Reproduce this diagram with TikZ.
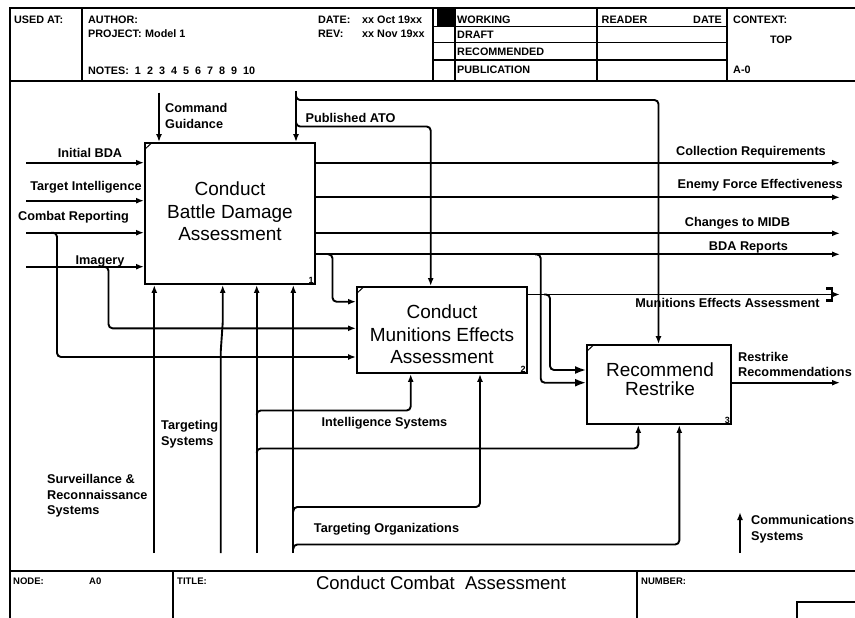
\documentclass[tikz,border=0pt]{standalone}
\usepackage{fontspec}
\setmainfont{Liberation Sans}
\usetikzlibrary{arrows.meta,calc}
\begin{document}
\begin{tikzpicture}[x=1pt,y=-1pt,
  ln/.style={line width=1.9pt},
  arr/.style={ln,-{Latex[length=8pt,width=6pt]}},
  barr/.style={ln,-{Latex[length=11pt,width=8pt]}},
  rc/.style={rounded corners=4pt},
  fr/.style={line width=1.8pt},
  box/.style={draw,line width=1.9pt,inner sep=0pt},
  boxtxt/.style={font=\fontsize{19}{22.5}\selectfont,align=center,inner sep=0pt},
  lbl/.style={font=\fontsize{12.7}{15.5}\selectfont\bfseries,inner sep=0pt},
  hdr/.style={font=\fontsize{10.8}{13}\selectfont\bfseries,inner sep=0pt,anchor=west},
  ftr/.style={font=\fontsize{9.5}{11}\selectfont\bfseries,inner sep=0pt,anchor=west},
  num/.style={font=\fontsize{9}{10}\selectfont\bfseries,inner sep=0pt,anchor=south east},
  tick/.style={line width=1pt}
]
\useasboundingbox (0,0) rectangle (855,618);

% ---------- frame ----------
\draw[line width=2.2pt] (10,618) -- (10,8) -- (855,8);
\draw[fr] (10,81) -- (855,81);
\draw[fr] (10,571) -- (855,571);
\draw[fr] (82,8) -- (82,81);
\draw[fr] (433,8) -- (433,81);
\draw[fr] (455,8) -- (455,81);
\draw[fr] (597,8) -- (597,81);
\draw[fr] (727,8) -- (727,81);
\draw[line width=1.5pt] (433,26.3) -- (727,26.3);
\draw[line width=1.5pt] (433,42.7) -- (727,42.7);
\draw[line width=1.5pt] (433,60) -- (727,60);
\fill (437,9) rectangle (455,26);
\draw[fr] (173,571) -- (173,618);
\draw[fr] (637,571) -- (637,618);
\draw[fr] (797,618) -- (797,602) -- (855,602);

% ---------- header text ----------
\node[hdr] (usedat) at (14,20) {USED AT:};
\node[hdr] (author) at (88,20) {AUTHOR:};
\node[hdr] (project) at (88,34) {PROJECT:};
\node[hdr] (model) at (145,34) {Model 1};
\node[hdr] (notes) at (88,71) {NOTES:\ \ 1\ \ 2\ \ 3\ \ 4\ \ 5\ \ 6\ \ 7\ \ 8\ \ 9\ \ 10};
\node[hdr] (date) at (318,20) {DATE:};
\node[hdr] (datev) at (362,20) {xx Oct 19xx};
\node[hdr] (rev) at (318,34) {REV:};
\node[hdr] (revv) at (362,34) {xx Nov 19xx};
\node[hdr] (working) at (457,20) {WORKING};
\node[hdr] (draft) at (457,34.3) {DRAFT};
\node[hdr] (recom) at (457,52) {RECOMMENDED};
\node[hdr] (publ) at (457,69.5) {PUBLICATION};
\node[hdr] (reader) at (601.5,20) {READER};
\node[hdr,anchor=east] (rdate) at (722,20) {DATE};
\node[hdr] (context) at (733,20) {CONTEXT:};
\node[hdr,anchor=center] (top) at (781,40) {TOP};
\node[hdr] (azero) at (733,70) {A-0};

% ---------- footer text ----------
\node[ftr] (nodel) at (13,581) {NODE:};
\node[ftr] (nodev) at (89,581) {A0};
\node[ftr] (titlel) at (177,581) {TITLE:};
\node[font=\fontsize{18.5}{22}\selectfont,inner sep=0pt] (title) at (441,583) {Conduct Combat\ \ Assessment};
\node[ftr] (numl) at (641,581) {NUMBER:};

% ---------- boxes ----------
\node[box,minimum width=170pt,minimum height=141pt] (b1) at (230,213.5) {};
\node[box,minimum width=170pt,minimum height=86pt] (b2) at (442,330) {};
\node[box,minimum width=144pt,minimum height=79pt] (b3) at (659,384.5) {};
\node[boxtxt] (t1) at (230,211.5) {Conduct\\Battle Damage\\Assessment};
\node[boxtxt] (t2) at (442,334.5) {Conduct\\Munitions Effects\\Assessment};
\node[boxtxt,font=\fontsize{19}{19}\selectfont] (t3) at (660,379.5) {Recommend\\Restrike};
\node[num] (n1) at ([shift={(-2,-1.5)}]b1.south east) {1};
\node[num] (n2) at ([shift={(-2,-1.5)}]b2.south east) {2};
\node[num] (n3) at ([shift={(-2,-1.5)}]b3.south east) {3};
\foreach \b in {b1,b2,b3}
  \draw[tick] ([shift={(1,7)}]\b.north west) -- ([shift={(7.5,1)}]\b.north west);

% ---------- inputs ----------
\coordinate (iBDA) at (26,162.7);
\coordinate (iTI) at (26,200.7);
\coordinate (iCR) at (26,232.7);
\coordinate (iIM) at (26,266.7);
\draw[arr] (iBDA) -- (iBDA -| b1.west);
\draw[arr] (iTI) -- (iTI -| b1.west);
\draw[arr] (iCR) -- (iCR -| b1.west);
\draw[arr] (iIM) -- (iIM -| b1.west);
\coordinate (crB) at (51,232.7);
\coordinate (crE) at (57,357);
\draw[arr,rc] (crB) -| (crE) -- (crE -| b2.west);
\coordinate (imB) at (105,266.7);
\coordinate (imE) at (108.5,328.3);
\draw[arr,rc] (imB) -| (imE) -- (imE -| b2.west);

\node[lbl] (lIBDA) at (90,153) {Initial BDA};
\node[lbl] (lTI) at (86,187) {Target Intelligence};
\node[lbl] (lCR) at (73.5,217) {Combat Reporting};
\node[lbl] (lIM) at (100,261) {Imagery};

% ---------- outputs ----------
\coordinate (oCR) at (840,162.7);
\coordinate (oEF) at (840,197.3);
\coordinate (oMI) at (840,233.3);
\coordinate (oBD) at (840,254.3);
\coordinate (oMA) at (840,294.5);
\coordinate (oRR) at (840,382.7);
\draw[arr] (oCR -| b1.east) -- (oCR);
\draw[arr] (oEF -| b1.east) -- (oEF);
\draw[arr] (oMI -| b1.east) -- (oMI);
\draw[arr] (oBD -| b1.east) -- (oBD);
\draw[arr] (oMA -| b2.east) -- (oMA);
\draw[line width=2.8pt] (826,288.5) -- (832,288.5) -- (832,300.5) -- (826,300.5);
\draw[arr] (oRR -| b3.east) -- (oRR);

\coordinate (bdB2) at (329,254.3);
\coordinate (bdE2) at (332.5,301.7);
\draw[arr,rc] (bdB2) -| (bdE2) -- (bdE2 -| b2.west);
\coordinate (bdB3) at (535,254.3);
\coordinate (bdE3) at (540.7,382.7);
\draw[barr,rc] (bdB3) -| (bdE3) -- (bdE3 -| b3.west);
\coordinate (maB3) at (544,294.5);
\coordinate (maE3) at (550,370);
\draw[barr,rc] (maB3) -| (maE3) -- (maE3 -| b3.west);

\node[lbl,anchor=east] (lCRq) at (826,152) {Collection Requirements};
\node[lbl,anchor=east] (lEF) at (843,185.5) {Enemy Force Effectiveness};
\node[lbl] (lMI) at (737.5,223) {Changes to MIDB};
\node[lbl] (lBD) at (748.5,247.5) {BDA Reports};
\node[lbl] (lMA) at (727.5,303) {Munitions Effects Assessment};
\node[lbl,anchor=north west,align=left] (lRR) at (738,352) {Restrike\\Recommendations};

% ---------- controls ----------
\coordinate (cCG) at (159,92.7);
\draw[arr] (cCG) -- (cCG |- b1.north);
\node[lbl,anchor=north west,align=left] (lCG) at (165,103.5) {Command\\Guidance};
\coordinate (cPA) at (296,91);
\draw[arr] (cPA) -- (cPA |- b1.north);
\coordinate (paB3) at (296,95);
\coordinate (paE3) at (658.5,100);
\draw[arr,rc] (paB3) |- (paE3) -- (paE3 |- b3.north);
\coordinate (paB2) at (296,121);
\coordinate (paE2) at (430.7,126.5);
\draw[arr,rc] (paB2) |- (paE2) -- (paE2 |- b2.north);
\node[lbl] (lPA) at (350.5,118) {Published ATO};

% ---------- mechanisms ----------
\coordinate (m1) at (154.3,553);
\coordinate (m2) at (220.7,553);
\coordinate (m2k) at (220.7,352);
\coordinate (m2t) at (222.7,323);
\coordinate (m3) at (256.7,553);
\coordinate (m4) at (293.3,553);
\draw[arr] (m1) -- (m1 |- b1.south);
\draw[arr] (m2) -- (m2k) -- (m2t) -- (m2t |- b1.south);
\draw[arr] (m3) -- (m3 |- b1.south);
\draw[arr] (m4) -- (m4 |- b1.south);

\coordinate (isB) at (256.7,415);
\coordinate (isE) at (410.7,410.5);
\draw[arr,rc] (isB) |- (isE) -- (isE |- b2.south);
\coordinate (i3B) at (256.7,453);
\coordinate (i3E) at (638.3,448.5);
\draw[arr,rc] (i3B) |- (i3E) -- (i3E |- b3.south);
\coordinate (toB) at (293.3,511.5);
\coordinate (toE) at (480,507);
\draw[arr,rc] (toB) |- (toE) -- (toE |- b2.south);
\coordinate (t3B) at (293.3,549);
\coordinate (t3E) at (679.3,544.5);
\draw[arr,rc] (t3B) |- (t3E) -- (t3E |- b3.south);
\coordinate (csB) at (740,553);
\coordinate (csE) at (740,512);
\draw[arr] (csB) -- (csE);

\node[lbl] (lIS) at (384.5,423) {Intelligence Systems};
\node[lbl,anchor=north west,align=left] (lTS) at (161,420.5) {Targeting\\Systems};
\node[lbl,anchor=north west,align=left] (lSR) at (47,474.5) {Surveillance \&\\Reconnaissance\\Systems};
\node[lbl] (lTO) at (386.5,529) {Targeting Organizations};
\node[lbl,anchor=north west,align=left] (lCS) at (751,515.5) {Communications\\Systems};
\end{tikzpicture}
\end{document}
